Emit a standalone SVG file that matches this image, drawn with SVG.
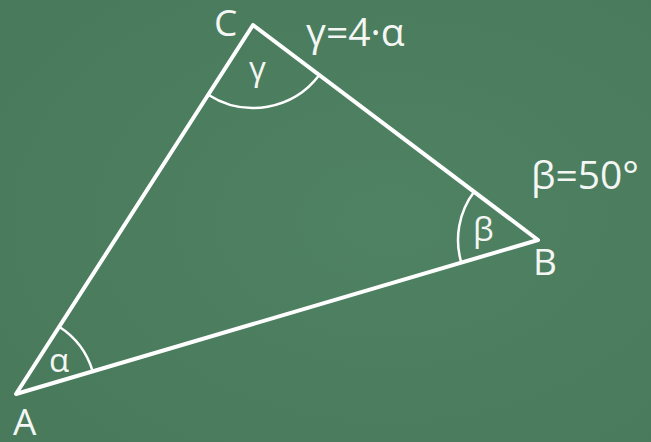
<svg xmlns="http://www.w3.org/2000/svg" width="651" height="442" viewBox="0 0 651 442">
<style>
.edge{fill:none;stroke:#ffffff;stroke-width:4;stroke-linejoin:round;stroke-linecap:round}
.arc{fill:none;stroke:#ffffff;stroke-width:2.5}
.lbl{font-family:"Open Sans","Noto Sans",sans-serif;font-size:37px;fill:#f4f6f4}
.big{font-size:39px}
.greek{font-family:"Open Sans","Noto Sans",sans-serif;font-size:33px;fill:#f4f6f4}
</style>
<defs>
<radialGradient id="bg" cx="0.6" cy="0.5" r="0.7">
<stop offset="0" stop-color="#4f8263"/>
<stop offset="1" stop-color="#487a5b"/>
</radialGradient>
</defs>
<rect x="0" y="0" width="651" height="442" fill="url(#bg)"/>
<g id="connectors">
<path class="edge" d="M16,394 L253,25 L538,240 Z"/>
</g>
<g id="angleC">
<path class="arc" d="M208.2,94.8 A83,83 0 0 0 319.3,75"/>
<text class="greek" x="249" y="80">γ</text>
</g>
<g id="angleB">
<path class="arc" d="M474.1,191.8 A80,80 0 0 0 461.3,262.6"/>
<text class="greek" x="473" y="241">β</text>
</g>
<g id="angleA">
<path class="arc" d="M59.2,326.7 A80,80 0 0 1 92.7,371.4"/>
<text class="greek" x="49" y="372">α</text>
</g>
<g id="nodeC"><text class="lbl" x="214" y="36">C</text></g>
<g id="nodeB"><text class="lbl" x="533" y="275">B</text></g>
<g id="nodeA"><text class="lbl" x="13" y="435">A</text></g>
<g id="labelGamma"><text class="lbl big" x="306" y="46">γ=4·α</text></g>
<g id="labelBeta"><text class="lbl big" x="531" y="189">β=50°</text></g>
</svg>
